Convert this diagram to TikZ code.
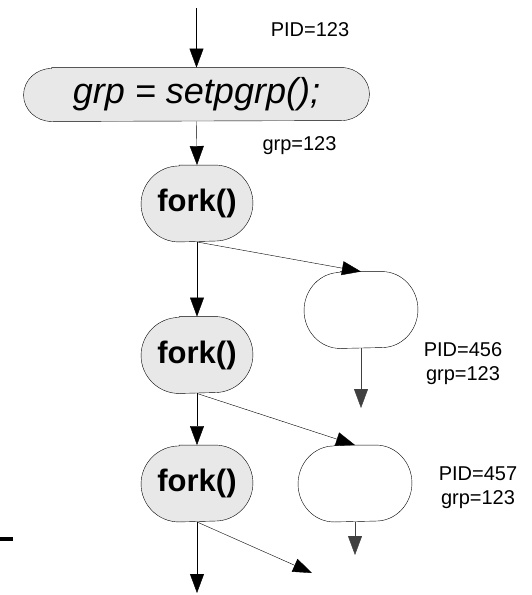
\documentclass[tikz,border=0pt]{standalone}
\usepackage{fontspec}
\setmainfont{Liberation Sans}
\usetikzlibrary{arrows.meta,calc}
\pgfdeclarelayer{background}
\pgfsetlayers{background,main}
\definecolor{boxgray}{HTML}{E8E8E8}
\begin{document}
\begin{tikzpicture}[x=1pt,y=1pt, line width=0.9pt,
  >={Triangle[length=19pt,width=14pt]},
  forkbox/.style={minimum width=111pt, minimum height=76pt, inner sep=0pt,
    font=\fontsize{31}{37}\selectfont\bfseries},
  childbox/.style={minimum width=113pt, minimum height=76pt, inner sep=0pt},
  setbox/.style={minimum width=345pt, minimum height=53pt, inner sep=0pt,
    font=\fontsize{36}{43}\selectfont\itshape},
  lbl/.style={inner sep=0pt, font=\fontsize{20}{24}\selectfont, align=center},
  flow/.style={->},
  softflow/.style={->, draw=black!75}]
\useasboundingbox (0,0) rectangle (532,-595);

\node[setbox] (set) at (196.5,-94.5) {grp = setpgrp();};
\node[forkbox] (f1) at (197,-203.5) {fork()};
\node[forkbox] (f2) at (197,-355) {fork()};
\node[forkbox] (f3) at (197,-483.5) {fork()};
\node[childbox] (c1) at (361,-310) {};
\node[childbox] (c2) at (355,-483.5) {};

\begin{pgfonlayer}{background}
\foreach \n/\c/\rx/\ry in {set/boxgray/28/26.5, f1/boxgray/38/38, f2/boxgray/38/38, f3/boxgray/38/38, c1/white/36/38, c2/white/36/38}{
  \path[draw, fill=\c] ($(\n.north west)+(\rx,0)$) -- ($(\n.north east)+(-\rx,0)$)
    arc[start angle=90, end angle=-90, x radius=\rx pt, y radius=\ry pt]
    -- ($(\n.south west)+(\rx,0)$)
    arc[start angle=270, end angle=90, x radius=\rx pt, y radius=\ry pt] -- cycle;
}
\end{pgfonlayer}

\coordinate (top) at (196.5,-8);
\coordinate (e1) at (361,-408);
\coordinate (e2) at (355,-555);
\coordinate (e3) at (197,-593);
\coordinate (e4) at (312,-573);

\draw[flow] (top) -- (set.north);
\draw[flow] (set.south) -- (f1.north);
\draw[flow] (f1.south) -- (f2.north);
\draw[flow] (f1.south) -- (c1.north);
\draw[softflow] (c1.south) -- (e1);
\draw[flow] (f2.south) -- (f3.north);
\draw[flow] (f2.south) -- (c2.north);
\draw[softflow] (c2.south) -- (e2);
\draw[flow] (f3.south) -- (e3);
\draw[flow] (f3.south) -- (e4);

\node[lbl, anchor=base] (pid1) at (310,-36.7) {PID=123};
\node[lbl, anchor=base] (grp1) at (299.5,-150) {grp=123};
\node[lbl] (lab2) at (463,-363.3) {PID=456\\grp=123};
\node[lbl] (lab3) at (478,-487.8) {PID=457\\grp=123};
\node[inner sep=0pt, anchor=west] (dash) at (0,-539) {\rule{13pt}{3.5pt}};
\end{tikzpicture}
\end{document}
